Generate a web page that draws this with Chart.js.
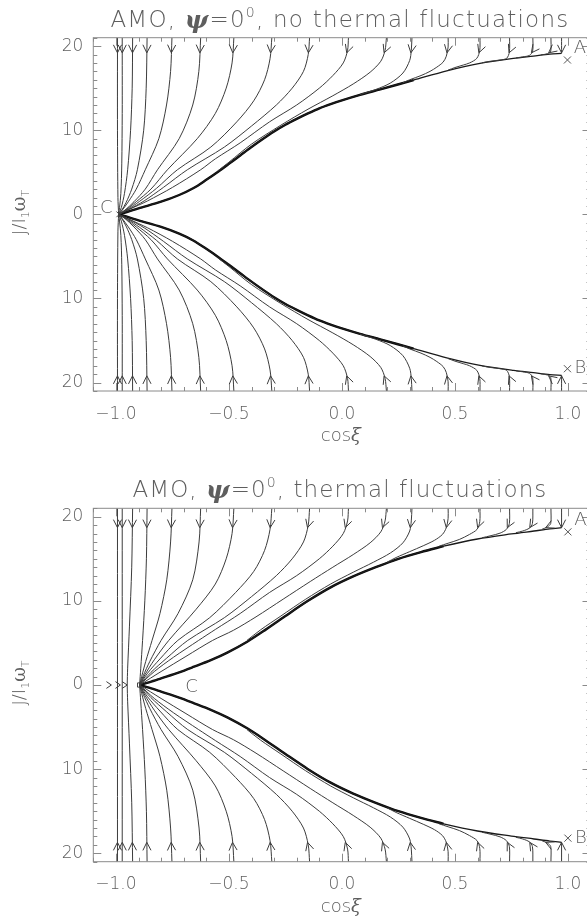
<!DOCTYPE html>
<html>
<head>
<meta charset="utf-8">
<script src="https://cdn.jsdelivr.net/npm/chart.js@4.4.1/dist/chart.umd.min.js"></script>
<style>
  html, body { margin: 0; padding: 0; overflow: hidden; background: #fff; width: 587px; height: 924px; }
  .panel { position: absolute; left: 0; width: 600px; height: 462px; }
</style>
</head>
<body>
<div class="panel" style="top:0"><canvas id="amoCold" width="600" height="462"></canvas></div>
<div class="panel" style="top:462px"><canvas id="amoWarm" width="600" height="462"></canvas></div>
<script>
// Phase trajectories in the (cos xi, J / I1 omega_T) plane, upper half (J > 0).
// Each path is a list of [cosXi, J] pairs in the direction of the flow;
// the lower half of each panel is the mirror image (J -> -J).

// ---- Panel 1: AMO, psi = 0, no thermal fluctuations ----
const cold_t01 = [[-0.993,21],[-0.993,10],[-0.991,2],[-0.988,0]];
const cold_t02 = [[-0.972,21],[-0.972,12],[-0.974,6],[-0.978,2.5],[-0.984,0.8],[-0.988,0]];
const cold_t03 = [[-0.926,21],[-0.928,15],[-0.935,10],[-0.948,5.3],[-0.962,2.5],[-0.976,0.8],[-0.988,0]];
const cold_t04 = [[-0.862,21],[-0.866,15],[-0.877,10],[-0.905,5.3],[-0.93,3],[-0.955,1.4],[-0.975,0.45],[-0.988,0]];
const cold_t05 = [[-0.752,21],[-0.758,17],[-0.776,13],[-0.81,9],[-0.87,5.3],[-0.91,3],[-0.945,1.5],[-0.972,0.5],[-0.988,0]];
const cold_t06 = [[-0.625,21],[-0.633,17],[-0.66,13],[-0.72,9],[-0.816,5.3],[-0.87,3],[-0.92,1.5],[-0.96,0.5],[-0.988,0]];
const cold_t07 = [[-0.478,21],[-0.486,18],[-0.512,15],[-0.56,12],[-0.64,9],[-0.772,5.3],[-0.845,3],[-0.91,1.5],[-0.955,0.55],[-0.988,0]];
const cold_t08 = [[-0.31,21],[-0.318,18.5],[-0.342,16],[-0.39,13.5],[-0.465,11],[-0.58,8],[-0.728,5.3],[-0.82,3.1],[-0.895,1.55],[-0.95,0.55],[-0.988,0]];
const cold_t09 = [[-0.143,21],[-0.149,19],[-0.17,17],[-0.22,15],[-0.29,13],[-0.4,10.5],[-0.52,8],[-0.684,5.3],[-0.79,3.2],[-0.875,1.6],[-0.945,0.55],[-0.988,0]];
const cold_t10 = [[0.029,21],[0.025,19.5],[0.006,18],[-0.04,16.5],[-0.1,15],[-0.2,13],[-0.32,11],[-0.45,8.5],[-0.56,6.6],[-0.625,5.3],[-0.75,3.2],[-0.86,1.6],[-0.94,0.6],[-0.988,0]];
const cold_t11 = [[0.197,21],[0.191,19.5],[0.172,18.2],[0.125,16.9],[0.05,15.5],[-0.04,14.1],[-0.15,12.5],[-0.27,10.6],[-0.4,8.35],[-0.5,6.2],[-0.55,5.15]];
const cold_t12 = [[0.31,21],[0.307,19.5],[0.3,18.3],[0.27,16.8],[0.214,15.6],[0.15,14.85],[0.08,14.25]];
const cold_t13 = [[0.47,21],[0.47,19.9],[0.462,18.8],[0.448,18.1],[0.42,17.5],[0.39,17.0],[0.35,16.5],[0.3,16.0],[0.27,15.65]];
const cold_t14 = [[0.611,21],[0.61,19.5],[0.597,18.55],[0.565,18.0],[0.537,17.75],[0.5,17.45],[0.47,17.15]];
const cold_t15 = [[0.742,21],[0.741,19.3],[0.729,18.55],[0.7,18.35],[0.656,18.2],[0.62,18.02]];
const cold_t16 = [[0.845,21],[0.844,19.4],[0.83,18.9],[0.8,18.72],[0.77,18.6]];
const cold_t17 = [[0.925,21],[0.924,19.4],[0.91,19.1],[0.88,18.95]];
const cold_t18 = [[0.972,21],[0.972,19.14]];
// attracting branch that all trajectories end up following towards C
const cold_attractor = [[-0.988,0],[-0.948,0.31],[-0.9,0.72],[-0.8,1.5],[-0.72,2.3],[-0.656,3.13],[-0.6,4.1],[-0.551,5.0],[-0.5,6.0],[-0.45,7.0],[-0.4,8.0],[-0.35,8.95],[-0.3,9.85],[-0.25,10.65],[-0.2,11.35],[-0.15,12.0],[-0.1,12.6],[-0.05,13.1],[0,13.55],[0.08,14.2],[0.17,14.86],[0.317,15.96],[0.464,17.07],[0.611,17.95],[0.759,18.55],[0.847,18.82],[0.92,19.05],[0.972,19.14]];
const cold_bundleEnd = 0.35;   // cos xi up to which many paths overlap the branch
const cold_pointA = [0.998, 18.35];
const cold_pointC = [-0.985, 0];
const cold_arrowJ = 19.2;

// ---- Panel 2: AMO, psi = 0, thermal fluctuations ----
const warm_t01 = [[-0.993,21],[-0.993,0]];
const warm_t02 = [[-0.972,21],[-0.972,0]];
const warm_t03 = [[-0.926,21],[-0.93,14],[-0.94,7],[-0.948,2],[-0.95,0]];
const warm_t04 = [[-0.862,21],[-0.865,15],[-0.872,10],[-0.882,5.3],[-0.89,2],[-0.895,0]];
const warm_t05 = [[-0.752,21],[-0.758,17],[-0.775,12.5],[-0.805,8.5],[-0.84,5.3],[-0.868,2.8],[-0.886,1.0],[-0.895,0]];
const warm_t06 = [[-0.625,21],[-0.632,17],[-0.66,12.5],[-0.725,8.5],[-0.8,5.3],[-0.85,2.8],[-0.879,1.1],[-0.895,0]];
const warm_t07 = [[-0.478,21],[-0.486,18],[-0.512,15],[-0.56,12],[-0.645,9],[-0.766,5.3],[-0.83,3],[-0.872,1.2],[-0.895,0]];
const warm_t08 = [[-0.31,21],[-0.318,18.5],[-0.342,16],[-0.39,13.5],[-0.47,11],[-0.585,8],[-0.726,5.3],[-0.805,3.1],[-0.86,1.4],[-0.895,0]];
const warm_t09 = [[-0.143,21],[-0.149,19],[-0.17,17],[-0.22,15],[-0.29,13],[-0.4,10.5],[-0.52,8],[-0.682,5.3],[-0.775,3.2],[-0.845,1.5],[-0.895,0]];
const warm_t10 = [[0.029,21],[0.025,19.5],[0.006,18],[-0.04,16.5],[-0.1,15],[-0.2,13],[-0.32,11],[-0.45,8.5],[-0.56,6.6],[-0.634,5.3],[-0.745,3.3],[-0.83,1.6],[-0.895,0]];
const warm_t11 = [[0.197,21],[0.191,19.5],[0.172,18.2],[0.125,16.9],[0.05,15.5],[-0.04,14],[-0.14,12.3],[-0.26,10.2],[-0.38,8.1],[-0.48,6.5],[-0.572,5.3],[-0.69,3.4],[-0.8,1.6],[-0.895,0]];
const warm_t12 = [[0.31,21],[0.307,19.5],[0.3,18.3],[0.27,16.9],[0.215,15.7],[0.14,14.6],[0.05,13.4],[-0.05,12.0],[-0.16,10.2],[-0.27,8.2],[-0.36,6.55],[-0.42,5.3]];
const warm_t13 = [[0.47,21],[0.47,19.8],[0.462,18.7],[0.445,17.9],[0.41,17.2],[0.36,16.55],[0.3,15.85],[0.24,15.15],[0.2,14.6]];
const warm_t14 = [[0.611,21],[0.61,19.4],[0.598,18.5],[0.565,17.9],[0.52,17.3],[0.47,16.85],[0.43,16.5]];
const warm_t15 = [[0.742,21],[0.741,19.2],[0.728,18.5],[0.7,18.05],[0.66,17.75],[0.62,17.5]];
const warm_t16 = [[0.845,21],[0.843,19.2],[0.83,18.65],[0.8,18.3],[0.77,18.1]];
const warm_t17 = [[0.925,21],[0.924,19.2],[0.91,18.8],[0.885,18.5]];
const warm_t18 = [[0.972,21],[0.972,18.7]];
const warm_attractor = [[-0.895,0],[-0.85,0.35],[-0.8,0.79],[-0.72,1.5],[-0.654,2.17],[-0.58,2.95],[-0.507,3.85],[-0.419,5.15],[-0.35,6.35],[-0.25,8.2],[-0.15,10.0],[-0.05,11.6],[0.05,12.9],[0.15,14.0],[0.25,15.0],[0.35,15.8],[0.45,16.5],[0.6,17.35],[0.75,17.95],[0.85,18.3],[0.92,18.55],[0.972,18.7]];
const warm_bundleEnd = 0.45;
const warm_pointA = [1.0, 18.2];
const warm_pointC = [-0.895, 0];
const warm_arrowJ = 18.7;
// rightward flow along J = 0 towards C
const warm_axisArrows = [-1.02, -0.98, -0.95];

// axis ticks
const xMajorTicks = [-1.0, -0.5, 0.0, 0.5, 1.0];
const yMajorTicks = [-20, -10, 0, 10, 20];

const coldPaths = [cold_t01, cold_t02, cold_t03, cold_t04, cold_t05, cold_t06, cold_t07, cold_t08, cold_t09,
                   cold_t10, cold_t11, cold_t12, cold_t13, cold_t14, cold_t15, cold_t16, cold_t17, cold_t18];
const warmPaths = [warm_t01, warm_t02, warm_t03, warm_t04, warm_t05, warm_t06, warm_t07, warm_t08, warm_t09,
                   warm_t10, warm_t11, warm_t12, warm_t13, warm_t14, warm_t15, warm_t16, warm_t17, warm_t18];

const INK = '#3c3c3c';
const AXIS = '#8a8a8a';
const TEXT = '#5e5e5e';
const FONT = '"DejaVu Sans", sans-serif';

function asPoints(pts, sign) {
  return pts.map(p => ({ x: p[0], y: sign * p[1] }));
}

function pointAtLevel(pts, level) {
  for (let i = 0; i < pts.length - 1; i++) {
    const [x0, y0] = pts[i], [x1, y1] = pts[i + 1];
    if (y0 !== y1 && (y0 - level) * (y1 - level) <= 0) {
      const t = (level - y0) / (y1 - y0);
      return { x: x0 + t * (x1 - x0), a: pts[i], b: pts[i + 1] };
    }
  }
  return null;
}

function arrowHead(ctx, x, y, dx, dy, len, half) {
  const a = Math.atan2(dy, dx);
  ctx.beginPath();
  ctx.moveTo(x - len * Math.cos(a - half), y - len * Math.sin(a - half));
  ctx.lineTo(x, y);
  ctx.lineTo(x - len * Math.cos(a + half), y - len * Math.sin(a + half));
  ctx.stroke();
}

// draws a row of differently styled text runs, spread to a given width
function drawRuns(ctx, runs, cx, baseline, width) {
  let natural = 0, chars = 0;
  ctx.letterSpacing = '0px';
  runs.forEach(r => { ctx.font = r.font; natural += ctx.measureText(r.text).width; chars += r.text.length; });
  const spacing = width ? (width - natural) / chars : 0;
  const total = natural + spacing * chars;
  let x = cx - total / 2;
  ctx.textAlign = 'left';
  ctx.textBaseline = 'alphabetic';
  runs.forEach(r => {
    ctx.font = r.font;
    ctx.letterSpacing = spacing + 'px';
    ctx.fillText(r.text, x, baseline + (r.dy || 0));
    ctx.letterSpacing = '0px';
    x += ctx.measureText(r.text).width + spacing * r.text.length;
  });
  ctx.letterSpacing = '0px';
}

const decorations = {
  id: 'decorations',
  afterDatasetsDraw(chart) {
    const cfg = chart.options.plugins.decorations;
    const ctx = chart.ctx;
    const xs = chart.scales.x, ys = chart.scales.y;
    const area = chart.chartArea;
    ctx.save();

    // frame and inward ticks on all four sides
    ctx.strokeStyle = AXIS;
    ctx.lineWidth = 1;
    ctx.strokeRect(area.left, area.top, area.right - area.left, area.bottom - area.top);
    ctx.beginPath();
    for (let k = -11; k <= 11; k++) {
      const v = k / 10;
      const major = xMajorTicks.some(m => Math.abs(m - v) < 1e-9);
      const len = major ? 8 : 4;
      const px = Math.round(xs.getPixelForValue(v)) + 0.5;
      ctx.moveTo(px, area.bottom); ctx.lineTo(px, area.bottom - len);
      ctx.moveTo(px, area.top); ctx.lineTo(px, area.top + len);
    }
    for (let v = -21; v <= 21; v++) {
      const major = yMajorTicks.includes(v);
      const len = major ? 8 : 4;
      const py = Math.round(ys.getPixelForValue(v)) + 0.5;
      ctx.moveTo(area.left, py); ctx.lineTo(area.left + len, py);
      ctx.moveTo(area.right, py); ctx.lineTo(area.right - len, py);
    }
    ctx.stroke();

    // flow arrows on every trajectory, upper and mirrored lower half
    ctx.strokeStyle = INK;
    ctx.lineWidth = 1;
    cfg.paths.forEach(pts => {
      const hit = pointAtLevel(pts, cfg.arrowJ);
      if (!hit) return;
      [1, -1].forEach(s => {
        const px = xs.getPixelForValue(hit.x), py = ys.getPixelForValue(s * cfg.arrowJ);
        const dx = xs.getPixelForValue(hit.b[0]) - xs.getPixelForValue(hit.a[0]);
        const dy = ys.getPixelForValue(s * hit.b[1]) - ys.getPixelForValue(s * hit.a[1]);
        arrowHead(ctx, px, py, dx, dy, 9, 0.47);
      });
    });
    (cfg.axisArrows || []).forEach(v => {
      arrowHead(ctx, xs.getPixelForValue(v), ys.getPixelForValue(0), 1, 0, 6, 0.6);
    });

    // point labels
    ctx.fillStyle = TEXT;
    ctx.font = '200 18px ' + FONT;
    ctx.textAlign = 'center';
    ctx.textBaseline = 'middle';
    const ax = xs.getPixelForValue(cfg.pointA[0]);
    ctx.fillText('A', ax + 12.5, ys.getPixelForValue(cfg.pointA[1]) - 11.5);
    ctx.fillText('B', ax + 13, ys.getPixelForValue(-cfg.pointA[1]));
    ctx.fillText('C', xs.getPixelForValue(cfg.pointC[0]) + cfg.cOffset[0], ys.getPixelForValue(0) + cfg.cOffset[1]);

    // panel title
    const mid = (area.left + area.right) / 2;
    const normal = '200 23px ' + FONT;
    drawRuns(ctx, [
      { text: 'AMO, ', font: normal },
      { text: 'ψ', font: 'italic 600 25px "DejaVu Serif", serif', dy: 1 },
      { text: '=0', font: normal },
      { text: '0', font: '200 14px ' + FONT, dy: -10 },
      { text: cfg.title, font: normal }
    ], mid - 2, area.top - 11, cfg.titleWidth);

    // x axis title
    drawRuns(ctx, [
      { text: 'cos', font: '200 18px ' + FONT },
      { text: 'ξ', font: 'italic 18px "DejaVu Serif", serif' }
    ], mid - 1, area.bottom + 50, 0);

    // y axis title, rotated
    ctx.save();
    ctx.translate(25, (area.top + area.bottom) / 2 - 2);
    ctx.rotate(-Math.PI / 2);
    drawRuns(ctx, [
      { text: 'J/I', font: '200 18px ' + FONT },
      { text: '1', font: '200 11px ' + FONT, dy: 4 },
      { text: 'ω', font: '18px "DejaVu Serif", serif' },
      { text: 'T', font: '200 11px ' + FONT, dy: 4 }
    ], 0, 0, 0);
    ctx.restore();

    ctx.restore();
  }
};

function buildPanel(canvasId, paths, attractor, bundleEnd, pointA, pointC, cStyle, extra) {
  const datasets = [];
  paths.forEach(pts => {
    [1, -1].forEach(s => datasets.push({
      data: asPoints(pts, s), showLine: true, borderColor: INK, borderWidth: 1,
      pointRadius: 0, tension: 0.3, fill: false
    }));
  });
  // the branch itself, and its crowded part near C drawn heavier
  const bundle = attractor.filter(p => p[0] <= bundleEnd);
  [1, -1].forEach(s => {
    datasets.push({
      data: asPoints(attractor, s), showLine: true, borderColor: '#1a1a1a', borderWidth: 1.3,
      pointRadius: 0, tension: 0.3, fill: false
    });
    datasets.push({
      data: asPoints(bundle, s), showLine: true, borderColor: '#0a0a0a', borderWidth: 2.4,
      pointRadius: 0, tension: 0.3, fill: false
    });
  });
  datasets.push({
    data: [{ x: pointA[0], y: pointA[1] }, { x: pointA[0], y: -pointA[1] }],
    showLine: false, pointStyle: 'crossRot', pointRadius: 5, borderColor: '#555', borderWidth: 1
  });
  datasets.push({
    data: [{ x: pointC[0], y: pointC[1] }],
    showLine: false, pointStyle: cStyle, pointRadius: cStyle === 'rect' ? 3 : 4,
    borderColor: '#444', backgroundColor: 'rgba(0,0,0,0)', borderWidth: 1
  });

  const tickFont = { family: FONT, size: 17, weight: '200' };
  return new Chart(document.getElementById(canvasId), {
    type: 'scatter',
    data: { datasets },
    options: {
      responsive: false,
      animation: false,
      events: [],
      layout: { padding: { left: 0, right: 9.5, top: extra.top, bottom: extra.bottom } },
      plugins: {
        legend: { display: false },
        tooltip: { enabled: false },
        title: { display: false },
        decorations: Object.assign({ paths, pointA, pointC }, extra)
      },
      scales: {
        x: {
          type: 'linear', min: -1.1, max: 1.1,
          grid: { display: false, drawTicks: false },
          border: { display: false },
          afterBuildTicks: sc => { sc.ticks = xMajorTicks.map(v => ({ value: v })); },
          afterFit: sc => { sc.height = 50; },
          ticks: {
            autoSkip: false, maxRotation: 0, padding: 13, color: TEXT, font: tickFont,
            callback: v => v.toFixed(1).replace('-', '\u2212')
          }
        },
        y: {
          type: 'linear', min: -21, max: 21,
          grid: { display: false, drawTicks: false },
          border: { display: false },
          afterBuildTicks: sc => { sc.ticks = yMajorTicks.map(v => ({ value: v })); },
          afterFit: sc => { sc.width = 93.3; },
          ticks: {
            autoSkip: false, padding: 10, color: TEXT, font: tickFont,
            callback: v => String(Math.abs(v))
          }
        }
      }
    },
    plugins: [decorations]
  });
}

buildPanel('amoCold', coldPaths, cold_attractor, cold_bundleEnd, cold_pointA, cold_pointC, 'crossRot', {
  top: 37.7, bottom: 21, arrowJ: cold_arrowJ, title: ', no thermal fluctuations',
  titleWidth: 459, cOffset: [-13, -6.5]
});
buildPanel('amoWarm', warmPaths, warm_attractor, warm_bundleEnd, warm_pointA, warm_pointC, 'rect', {
  top: 46.3, bottom: 12.3, arrowJ: warm_arrowJ, title: ', thermal fluctuations',
  titleWidth: 415, cOffset: [52, 2.5], axisArrows: warm_axisArrows
});
</script>
</body>
</html>
